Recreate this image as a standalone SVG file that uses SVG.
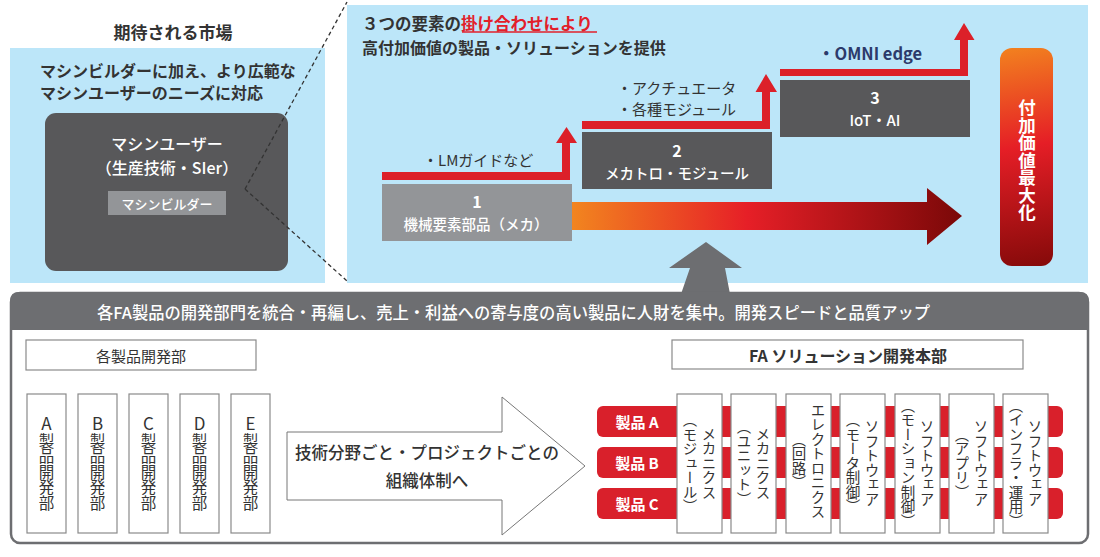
<svg xmlns="http://www.w3.org/2000/svg" width="1100" height="557" viewBox="0 0 1100 557">
<defs>
<style>
.t{font-family:"Noto Sans CJK JP","Noto Sans",sans-serif;}
.b{font-weight:700}
.m{font-weight:500}
.w{fill:#fff}
.d{fill:#333}
.c{dominant-baseline:central}
.v{writing-mode:vertical-rl;text-anchor:middle}
.ln{stroke:#8a8a8a;stroke-width:1.2;fill:none}
.bx{fill:#fff;stroke:#8a8a8a;stroke-width:1.2}
.red{fill:#dc2029}
.pb{fill:#d9202b}
</style>
<linearGradient id="gArrow" gradientUnits="userSpaceOnUse" x1="572" y1="0" x2="962" y2="0">
<stop offset="0" stop-color="#f2851f"/>
<stop offset="0.45" stop-color="#e61f27"/>
<stop offset="1" stop-color="#7a0808"/>
</linearGradient>
<linearGradient id="gPill" gradientUnits="userSpaceOnUse" x1="1010" y1="48" x2="1045" y2="266">
<stop offset="0" stop-color="#f2801f"/>
<stop offset="0.45" stop-color="#e51e26"/>
<stop offset="1" stop-color="#860a0a"/>
</linearGradient>
</defs>
<rect width="1100" height="557" fill="#fff"/>

<!-- top-left panel -->
<g id="market">
<text class="t b d c" x="173" y="31" font-size="17" text-anchor="middle">期待される市場</text>
<rect x="10" y="48" width="315" height="235" fill="#bce6f9"/>
<text class="t b d c" x="40" y="70" font-size="16">マシンビルダーに加え、より広範な</text>
<text class="t b d c" x="40" y="92" font-size="16">マシンユーザーのニーズに対応</text>
</g>
<g id="machine-user">
<rect x="45" y="113" width="243" height="158" rx="11" fill="#58585a"/>
<text class="t m w c" x="167" y="143" font-size="16" text-anchor="middle">マシンユーザー</text>
<text class="t m w c" x="167" y="167" font-size="16" text-anchor="middle">（生産技術・SIer）</text>
</g>
<g id="machine-builder">
<rect x="108" y="191" width="118" height="24" fill="#939598"/>
<text class="t m w c" x="167" y="203" font-size="13" text-anchor="middle">マシンビルダー</text>
</g>

<!-- right panel -->
<g id="value-panel">
<rect x="347" y="5" width="741" height="278" fill="#bce6f9"/>
<text class="t b c" x="362" y="23" font-size="16.5"><tspan fill="#333">３つの要素の</tspan><tspan fill="#e2202a">掛け合わせにより</tspan></text>
<line x1="462" y1="32" x2="597" y2="32" stroke="#e2202a" stroke-width="1.5"/>
<text class="t b d c" x="362" y="47" font-size="16">高付加価値の製品・ソリューションを提供</text>
</g>

<g id="connectors">
<path d="M245,189 L347,2 M245,189 L347,281" stroke="#333" stroke-width="1.3" stroke-dasharray="4,3" fill="none"/>
<polygon points="572,202 927,202 927,188 962,216 927,245 927,230 572,230" fill="url(#gArrow)"/>
<polygon class="red" points="382,172 562,172 562,143 556,143 566.5,127 577,143 570,143 570,180 382,180"/>
<polygon class="red" points="582,121 762,121 762,92 755.5,92 766,74 777,92 770,92 770,129 582,129"/>
<polygon class="red" points="780,69 960,69 960,40 954,40 964,23 974.5,40 968,40 968,76 780,76"/>
<polygon points="706,242 742,268 725,268 730,294 681,294 690,268 669,268" fill="#6d6e71"/>
<path class="ln" d="M142,370 V382 M47,382 H250 M47,382 V394 M98,382 V394 M149,382 V394 M199,382 V394 M250,382 V394"/>
<path class="ln" d="M847,369 V382 M699,382 H1026 M699,382 V394 M754,382 V394 M808,382 V394 M863,382 V394 M917,382 V394 M972,382 V394 M1026,382 V394"/>
</g>

<g id="step1">
<rect x="382" y="184" width="190" height="57" fill="#939598"/>
<text class="t b w c" x="477" y="201" font-size="16" text-anchor="middle">1</text>
<text class="t m w c" x="476" y="223" font-size="14.5" text-anchor="middle">機械要素部品（メカ）</text>
<text class="t d c" x="423" y="159" font-size="15">・LMガイドなど</text>
</g>
<g id="step2">
<rect x="582" y="132" width="190" height="57" fill="#58585a"/>
<text class="t b w c" x="677" y="150" font-size="16" text-anchor="middle">2</text>
<text class="t m w c" x="677" y="172" font-size="14.5" text-anchor="middle">メカトロ・モジュール</text>
<text class="t d c" x="617" y="87" font-size="15">・アクチュエータ</text>
<text class="t d c" x="617" y="108" font-size="15">・各種モジュール</text>
</g>
<g id="step3">
<rect x="780" y="80" width="190" height="57" fill="#58585a"/>
<text class="t b w c" x="875" y="97" font-size="16" text-anchor="middle">3</text>
<text class="t m w c" x="875" y="119" font-size="15" text-anchor="middle">IoT・AI</text>
<text class="t b c" x="818" y="53" font-size="16.5" fill="#2c3a6b">・OMNI edge</text>
</g>
<g id="maximize">
<rect x="1000" y="48" width="53" height="218" rx="12" fill="url(#gPill)"/>
<text class="t b w v" x="1027" y="160" font-size="17.5">付加価値最大化</text>
</g>

<!-- bottom panel -->
<g id="reorg">
<rect x="11" y="293" width="1077" height="250" rx="9" fill="#fff" stroke="#6d6e71" stroke-width="2.5"/>
<path d="M10,330 V301 Q10,292 19,292 H1080 Q1089,292 1089,301 V330 Z" fill="#6d6e71"/>
<text class="t m w c" x="97" y="312" font-size="16.5" textLength="833" lengthAdjust="spacingAndGlyphs">各FA製品の開発部門を統合・再編し、売上・利益への寄与度の高い製品に人財を集中。開発スピードと品質アップ</text>
</g>

<g id="dept-root">
<rect class="bx" x="26" y="340" width="230" height="30"/>
<text class="t d c" x="141" y="355" font-size="15" text-anchor="middle">各製品開発部</text>
</g>
<g id="dept-a"><rect class="bx" x="27" y="394" width="39" height="139"/><text class="t d c" x="46.5" y="422" font-size="17" text-anchor="middle">A</text><text class="t d v" x="46.5" y="472" font-size="15.5">製品開発部</text></g>
<g id="dept-b"><rect class="bx" x="78" y="394" width="39" height="139"/><text class="t d c" x="97.5" y="422" font-size="17" text-anchor="middle">B</text><text class="t d v" x="97.5" y="472" font-size="15.5">製品開発部</text></g>
<g id="dept-c"><rect class="bx" x="129" y="394" width="39" height="139"/><text class="t d c" x="148.5" y="422" font-size="17" text-anchor="middle">C</text><text class="t d v" x="148.5" y="472" font-size="15.5">製品開発部</text></g>
<g id="dept-d"><rect class="bx" x="180" y="394" width="39" height="139"/><text class="t d c" x="199.5" y="422" font-size="17" text-anchor="middle">D</text><text class="t d v" x="199.5" y="472" font-size="15.5">製品開発部</text></g>
<g id="dept-e"><rect class="bx" x="231" y="394" width="39" height="139"/><text class="t d c" x="250.5" y="422" font-size="17" text-anchor="middle">E</text><text class="t d v" x="250.5" y="472" font-size="15.5">製品開発部</text></g>

<g id="transition">
<polygon points="287,432 502,432 502,397 585,466 502,535 502,500 287,500" fill="#fff" stroke="#777" stroke-width="1"/>
<text class="t m d c" x="427" y="452" font-size="16.5" text-anchor="middle">技術分野ごと・プロジェクトごとの</text>
<text class="t m d c" x="427" y="480" font-size="16.5" text-anchor="middle">組織体制へ</text>
</g>

<g id="products">
<rect class="pb" x="597" y="406" width="466" height="31" rx="6"/>
<rect class="pb" x="597" y="447" width="466" height="31" rx="6"/>
<rect class="pb" x="597" y="488" width="466" height="31" rx="6"/>
<text class="t b w c" x="637" y="421.5" font-size="15" text-anchor="middle">製品 A</text>
<text class="t b w c" x="637" y="462.5" font-size="15" text-anchor="middle">製品 B</text>
<text class="t b w c" x="637" y="503.5" font-size="15" text-anchor="middle">製品 C</text>
</g>

<g id="fa-root">
<rect class="bx" x="672" y="340" width="351" height="29"/>
<text class="t b d c" x="848" y="355" font-size="16" text-anchor="middle">FA ソリューション開発本部</text>
</g>
<g id="fa-1"><rect class="bx" x="677" y="394" width="45" height="139"/><text class="t d v" x="709" y="463" font-size="14.5">メカニクス</text><text class="t d v" x="690" y="463" font-size="14.5">（モジュール）</text></g>
<g id="fa-2"><rect class="bx" x="731" y="394" width="45" height="139"/><text class="t d v" x="763" y="463" font-size="14.5">メカニクス</text><text class="t d v" x="744" y="463" font-size="14.5">（ユニット）</text></g>
<g id="fa-3"><rect class="bx" x="786" y="394" width="45" height="139"/><text class="t d v" x="818" y="461" font-size="14.5">エレクトロニクス</text><text class="t d v" x="799" y="461" font-size="14.5">（回路）</text></g>
<g id="fa-4"><rect class="bx" x="840" y="394" width="45" height="139"/><text class="t d v" x="872" y="463" font-size="14.5">ソフトウェア</text><text class="t d v" x="853" y="463" font-size="14.5">（モータ制御）</text></g>
<g id="fa-5"><rect class="bx" x="895" y="394" width="45" height="139"/><text class="t d v" x="927" y="463" font-size="14.5">ソフトウェア</text><text class="t d v" x="908" y="463" font-size="14.5">（モーション制御）</text></g>
<g id="fa-6"><rect class="bx" x="949" y="394" width="45" height="139"/><text class="t d v" x="981" y="463" font-size="14.5">ソフトウェア</text><text class="t d v" x="962" y="463" font-size="14.5">（アプリ）</text></g>
<g id="fa-7"><rect class="bx" x="1003" y="394" width="45" height="139"/><text class="t d v" x="1035" y="463" font-size="14.5">ソフトウェア</text><text class="t d v" x="1016" y="463" font-size="14.5">（インフラ・運用）</text></g>
</svg>
